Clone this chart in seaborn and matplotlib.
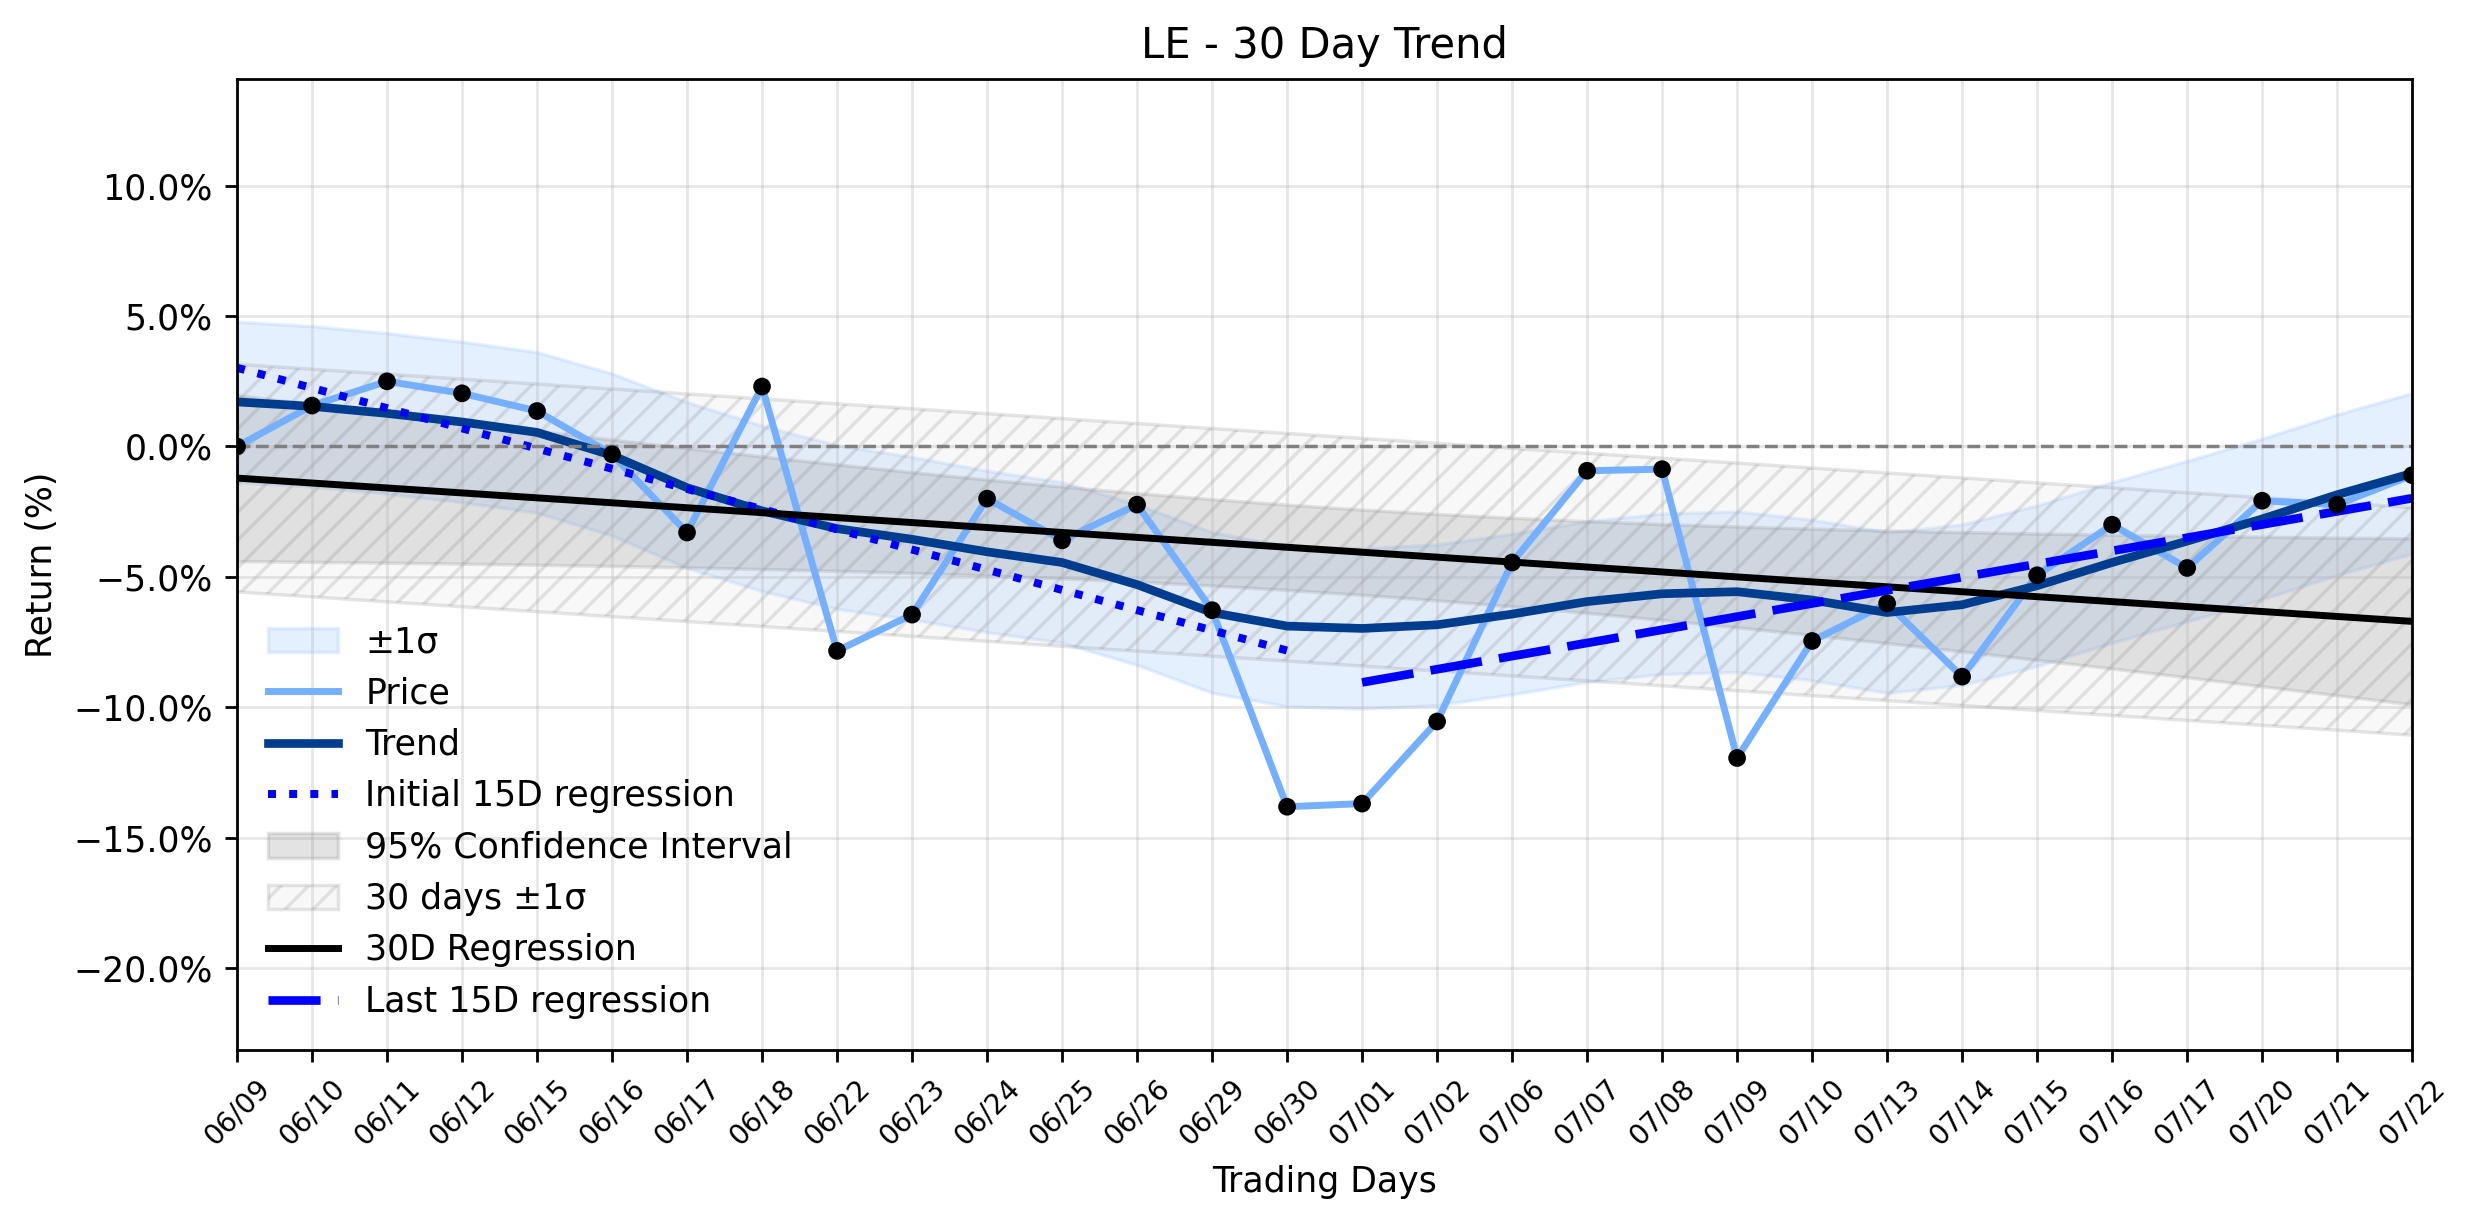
import numpy as np
import pandas as pd
import matplotlib
matplotlib.use("Agg")
import matplotlib.pyplot as plt
import seaborn as sns
from matplotlib.ticker import PercentFormatter

# ---------------- data ----------------
dates = ["06/09", "06/10", "06/11", "06/12", "06/15", "06/16", "06/17", "06/18",
         "06/22", "06/23", "06/24", "06/25", "06/26", "06/29", "06/30", "07/01",
         "07/02", "07/06", "07/07", "07/08", "07/09", "07/10", "07/13", "07/14",
         "07/15", "07/16", "07/17", "07/20", "07/21", "07/22"]

price = [0.00, 1.57, 2.50, 2.04, 1.36, -0.30, -3.30, 2.30, -7.84, -6.45,
         -2.00, -3.60, -2.23, -6.28, -13.82, -13.70, -10.55, -4.45, -0.93, -0.87,
         -11.95, -7.46, -6.02, -8.83, -4.94, -3.00, -4.66, -2.08, -2.23, -1.10]

trend = [1.71, 1.54, 1.27, 0.94, 0.54, -0.34, -1.58, -2.47, -3.15, -3.56,
         -4.04, -4.45, -5.30, -6.37, -6.89, -6.98, -6.84, -6.43, -5.95, -5.65,
         -5.57, -5.89, -6.37, -6.07, -5.34, -4.45, -3.63, -2.78, -1.85, -1.03]

band_upper = [4.79, 4.62, 4.35, 4.02, 3.62, 2.80, 1.70, 0.80, 0.05, -0.40,
              -0.93, -1.37, -2.22, -3.29, -3.81, -3.90, -3.76, -3.35, -2.87, -2.57,
              -2.49, -2.81, -3.29, -2.99, -2.26, -1.37, -0.55, 0.30, 1.23, 2.05]

band_lower = [-1.37, -1.54, -1.81, -2.14, -2.54, -3.42, -4.66, -5.55, -6.23, -6.64,
              -7.12, -7.53, -8.38, -9.45, -9.97, -10.06, -9.92, -9.51, -9.03, -8.73,
              -8.65, -8.97, -9.45, -9.15, -8.42, -7.53, -6.71, -5.86, -4.93, -4.11]

title = "LE - 30 Day Trend"
half = 15
t_crit = 2.048  # 95% two-sided, df = 28

# ---------------- derived statistics ----------------
x = np.arange(len(dates))
y = np.asarray(price, dtype=float)
df = pd.DataFrame({"day": x, "price": y, "trend": trend})

coef = np.polyfit(x, y, 1)
fit = np.polyval(coef, x)
n = len(x)
s = np.sqrt(np.sum((y - fit) ** 2) / (n - 2))
se = s * np.sqrt(1 / n + (x - x.mean()) ** 2 / np.sum((x - x.mean()) ** 2))

c1 = np.polyfit(x[:half], y[:half], 1)
c2 = np.polyfit(x[half:], y[half:], 1)

# ---------------- plot ----------------
price_color = "#74B0FF"
trend_color = "#003D8F"

fig, ax = plt.subplots(figsize=(2474 / 250, 1224 / 250), dpi=250)
fig.subplots_adjust(left=0.0958, right=0.975, top=0.9355, bottom=0.1422)

ax.fill_between(x, band_lower, band_upper, color=price_color, alpha=0.18,
                lw=1, label="±1σ")
sns.lineplot(data=df, x="day", y="price", color=price_color, lw=2,
             label="Price", ax=ax)
sns.lineplot(data=df, x="day", y="trend", color=trend_color, lw=2.5,
             label="Trend", ax=ax)
ax.plot(x[:half], np.polyval(c1, x[:half]), color="blue", ls=":", lw=2.3,
        label="Initial 15D regression")
ax.fill_between(x, fit - t_crit * se, fit + t_crit * se, color="gray",
                alpha=0.22, lw=1, label="95% Confidence Interval")
ax.fill_between(x, fit - s, fit + s, facecolor=(0.83, 0.83, 0.83, 0.15),
                edgecolor=(0.5, 0.5, 0.5, 0.2), hatch="///", lw=1,
                label="30 days ±1σ")
ax.plot(x, fit, color="black", lw=2, label="30D Regression")
ax.plot(x[half:], np.polyval(c2, x[half:]), color="blue", lw=2.5,
        dashes=(6, 2), label="Last 15D regression")
sns.scatterplot(x=x, y=y, color="black", s=26, edgecolor="none", zorder=5,
                legend=False, ax=ax)
ax.axhline(0, color="gray", ls="--", lw=1)

ax.set_xlim(0, n - 1)
ax.set_ylim(-23.15, 14.1)
ax.set_yticks([10, 5, 0, -5, -10, -15, -20])
ax.yaxis.set_major_formatter(PercentFormatter(xmax=100, decimals=1))
ax.set_xticks(x, dates, rotation=45, fontsize=8)
ax.grid(True, alpha=0.3)

ax.set_title(title, fontsize=12)
ax.set_xlabel("Trading Days")
ax.set_ylabel("Return (%)")

order = ["±1σ", "Price", "Trend", "Initial 15D regression",
         "95% Confidence Interval", "30 days ±1σ", "30D Regression",
         "Last 15D regression"]
h, l = ax.get_legend_handles_labels()
hl = dict(zip(l, h))
ax.legend([hl[k] for k in order], order, loc="lower left", frameon=False)

fig.savefig("out.png", dpi=250)
